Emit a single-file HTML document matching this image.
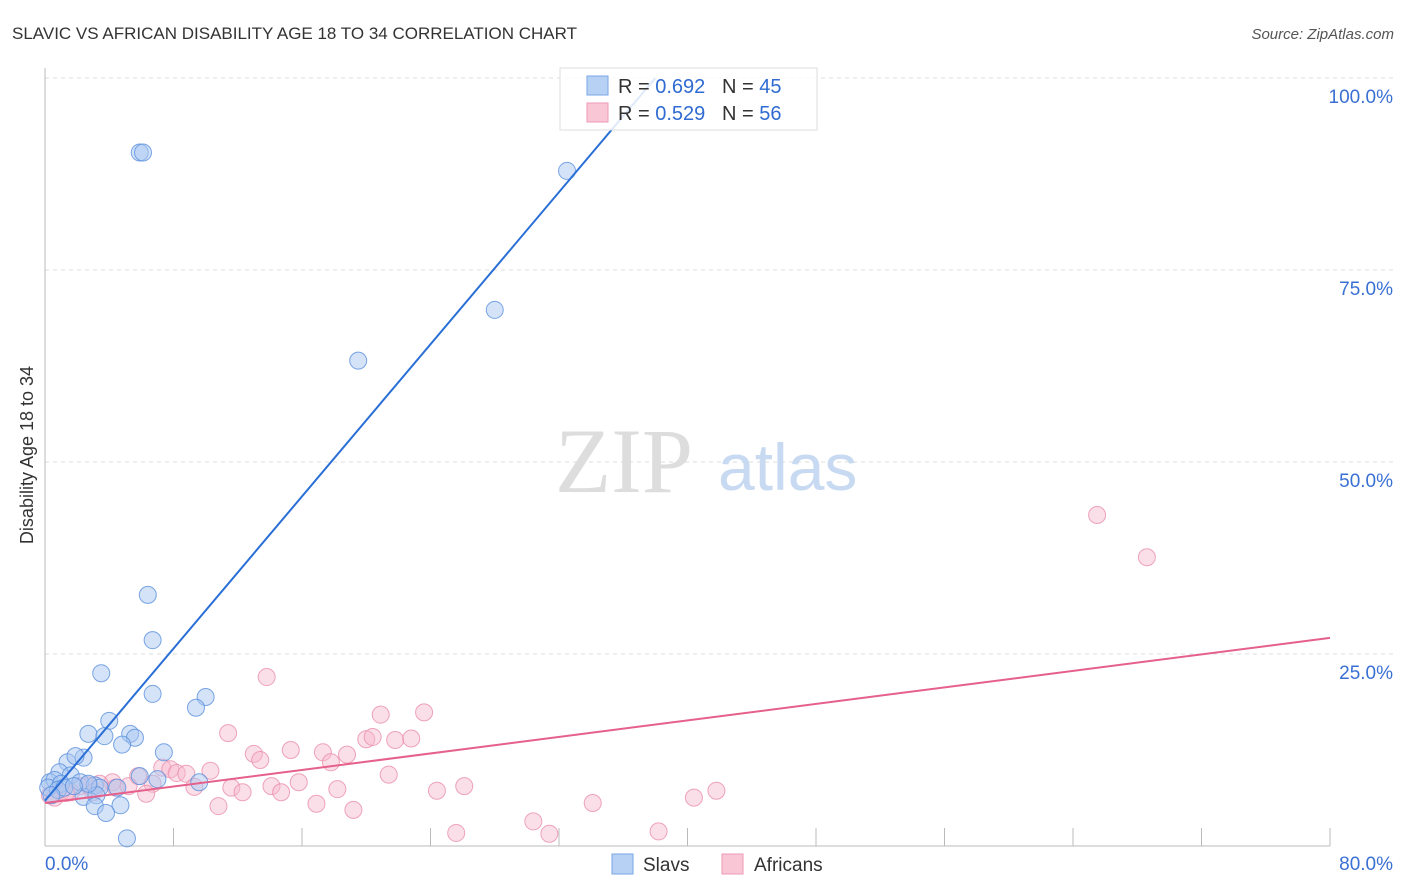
<!DOCTYPE html>
<html><head><meta charset="utf-8">
<style>
html,body{margin:0;padding:0;background:#fff;width:1406px;height:892px;overflow:hidden;font-family:"Liberation Sans",sans-serif;}
svg{display:block}
</style></head>
<body>
<svg id="chart" width="1406" height="892">
  <text x="12" y="39" font-size="17" fill="#333">SLAVIC VS AFRICAN DISABILITY AGE 18 TO 34 CORRELATION CHART</text>
  <text x="1394" y="39" font-size="15" fill="#555" font-style="italic" text-anchor="end">Source: ZipAtlas.com</text>
  <text x="33" y="455" font-size="18" fill="#333" text-anchor="middle" transform="rotate(-90 33 455)">Disability Age 18 to 34</text>
  <g id="grid"></g>
  <g id="axes"></g>
  <text x="555" y="492" font-size="92" fill="#ddd" font-family="Liberation Serif,serif">ZIP</text>
  <text x="718" y="490" font-size="66" fill="#c8daf2">atlas</text>
  <g id="pink"></g>
  <g id="blue"></g>
  <g id="lines"></g>
  <g>
    <rect x="560" y="68" width="257" height="62" fill="#fff" fill-opacity="0.85" stroke="#ddd"/>
    <rect x="587" y="76" width="21" height="19" fill="#b7d1f5" stroke="#7aa6e6"/>
    <rect x="587" y="103" width="21" height="19" fill="#f9c6d5" stroke="#ee9ab4"/>
    <text x="618" y="93" font-size="20" fill="#333">R = <tspan fill="#2f6bd1">0.692</tspan>&#160;&#160;&#160;N = <tspan fill="#2f6bd1">45</tspan></text>
    <text x="618" y="120" font-size="20" fill="#333">R = <tspan fill="#2f6bd1">0.529</tspan>&#160;&#160;&#160;N = <tspan fill="#2f6bd1">56</tspan></text>
  </g>
  <g>
    <rect x="612" y="854" width="21" height="20" fill="#b7d1f5" stroke="#7aa6e6"/>
    <text x="643" y="871" font-size="19" fill="#333">Slavs</text>
    <rect x="722" y="854" width="21" height="20" fill="#f9c6d5" stroke="#ee9ab4"/>
    <text x="754" y="871" font-size="19" fill="#333">Africans</text>
  </g>
</svg>
<script>
const yTicks=[25,50,75,100];
const yTickLabels=["25.0%","50.0%","75.0%","100.0%"];
const xTicks=[0,8,16,24,32,40,48,56,64,72,80];
const slavsX=[5.9,6.1,32.5,28.0,19.5,6.4,6.7,3.5,6.7,10.0,9.4,4.0,2.7,3.7,5.3,5.6,4.8,7.4,1.4,2.4,1.9,0.9,1.6,0.3,0.6,0.2,1.0,2.2,3.1,3.4,9.6,7.0,5.9,4.5,2.4,3.2,3.1,4.7,3.8,5.1,0.8,1.2,2.7,0.4,1.8];
const slavsY=[90.3,90.3,87.9,69.8,63.2,32.7,26.8,22.5,19.8,19.4,18.0,16.3,14.6,14.3,14.6,14.1,13.2,12.2,10.9,11.5,11.7,9.6,9.2,8.3,8.6,7.6,8.1,8.3,7.9,7.6,8.3,8.7,9.1,7.6,6.4,6.6,5.2,5.3,4.3,1.0,7.3,7.6,8.1,6.6,7.8];
const afrX=[65.5,68.6,13.8,23.6,20.9,11.4,20.0,20.4,21.8,22.8,15.3,17.3,13.0,13.4,18.8,17.8,7.3,7.8,10.3,8.2,8.8,5.8,21.4,4.2,3.4,2.7,4.4,5.2,2.2,1.0,1.6,3.0,6.7,9.3,11.6,12.3,14.1,15.8,18.2,26.1,24.4,41.8,40.4,34.1,16.9,19.2,10.8,6.3,14.7,30.4,31.4,25.6,38.2,0.3,0.6,1.3];
const afrY=[43.1,37.6,22.0,17.4,17.1,14.7,13.9,14.2,13.8,14.0,12.5,12.2,12.0,11.2,11.9,10.9,10.2,10.0,9.8,9.5,9.4,9.1,9.3,8.3,8.1,7.9,7.6,7.8,7.8,7.0,7.0,7.0,8.1,7.7,7.6,7.0,7.8,8.3,7.4,7.8,7.2,7.2,6.3,5.6,5.5,4.7,5.2,6.8,7.0,3.2,1.6,1.7,1.9,6.6,6.3,6.9];
const slavsLine=[[0,5.9],[38,100]];
const afrLine=[[0,5.6],[80,27.1]];
const NS="http://www.w3.org/2000/svg";
function sx(v){return 45+v/80*1285;}
function sy(v){return 846-v/100*768;}
function mk(tag,attrs,parent){const e=document.createElementNS(NS,tag);for(const k in attrs)e.setAttribute(k,attrs[k]);parent.appendChild(e);return e;}
const grid=document.getElementById('grid'),axes=document.getElementById('axes');
yTicks.forEach((t,i)=>{
  const l=mk('line',{x1:45,x2:1393,y1:sy(t),y2:sy(t),stroke:'#ddd','stroke-dasharray':'4,4'},grid);
  
  
  const tx=mk('text',{x:1393,y:sy(t)+25,'font-size':19,fill:'#3a70d3','text-anchor':'end'},axes);
  tx.textContent=yTickLabels[i];
  
  
});
const ax=mk('line',{x1:45,x2:45,y1:68,y2:846,stroke:'#bbb'},axes);


const bx=mk('line',{x1:45,x2:1330,y1:846,y2:846,stroke:'#bbb'},axes);


xTicks.forEach(t=>{
  const l=mk('line',{x1:sx(t),x2:sx(t),y1:828,y2:846,stroke:'#bbb'},axes);
  
  
});
const x0=mk('text',{x:45,y:870,'font-size':19,fill:'#3a70d3'},axes);x0.textContent='0.0%';


const x1=mk('text',{x:1393,y:870,'font-size':19,fill:'#3a70d3','text-anchor':'end'},axes);x1.textContent='80.0%';


const pg=document.getElementById('pink');
afrX.forEach((x,i)=>{
  const c=mk('circle',{cx:sx(x),cy:sy(afrY[i]),r:8.5,fill:'#f7b8cb','fill-opacity':0.45,stroke:'#ea8fab','stroke-opacity':0.8},pg);
  
  
});
const bg=document.getElementById('blue');
slavsX.forEach((x,i)=>{
  const c=mk('circle',{cx:sx(x),cy:sy(slavsY[i]),r:8.5,fill:'#a9c8f2','fill-opacity':0.5,stroke:'#5a90dd','stroke-opacity':0.8},bg);
  
  
});
const lg=document.getElementById('lines');
const bl=mk('line',{x1:sx(slavsLine[0][0]),y1:sy(slavsLine[0][1]),x2:sx(slavsLine[1][0]),y2:sy(slavsLine[1][1]),stroke:'#2a6fd6','stroke-width':2},lg);


const pl=mk('line',{x1:sx(afrLine[0][0]),y1:sy(afrLine[0][1]),x2:sx(afrLine[1][0]),y2:sy(afrLine[1][1]),stroke:'#e5608a','stroke-width':2},lg);


</script>
</body></html>
